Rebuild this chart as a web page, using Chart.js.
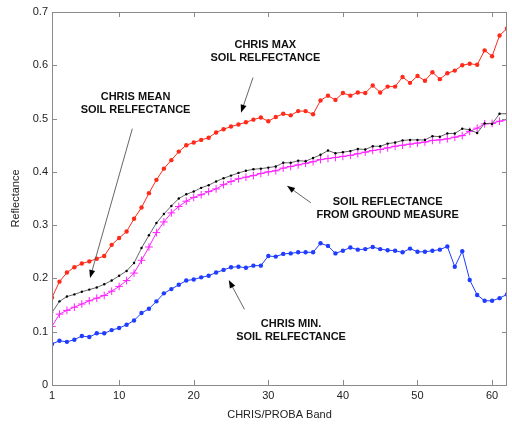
<!DOCTYPE html>
<html>
<head>
<meta charset="utf-8">
<script src="https://cdn.jsdelivr.net/npm/chart.js@4.4.1/dist/chart.umd.min.js"></script>
<style>
  html, body { margin: 0; padding: 0; background: #fff; }
  canvas { display: block; }
</style>
</head>
<body>
<canvas id="soil-chart" width="512" height="425"></canvas>
<script>
// CHRIS/PROBA band numbers
var bands = [1, 2, 3, 4, 5, 6, 7, 8, 9, 10, 11, 12, 13, 14, 15, 16, 17, 18, 19, 20,
    21, 22, 23, 24, 25, 26, 27, 28, 29, 30, 31, 32, 33, 34, 35, 36, 37, 38, 39, 40,
    41, 42, 43, 44, 45, 46, 47, 48, 49, 50, 51, 52, 53, 54, 55, 56, 57, 58, 59, 60, 61, 62];

var chrisMax = [0.164, 0.194, 0.211, 0.221, 0.228, 0.232, 0.237, 0.242, 0.263, 0.276,
    0.288, 0.312, 0.333, 0.360, 0.385, 0.406, 0.422, 0.438, 0.450, 0.455,
    0.460, 0.464, 0.474, 0.480, 0.485, 0.489, 0.493, 0.498, 0.502, 0.495,
    0.503, 0.509, 0.506, 0.514, 0.514, 0.508, 0.534, 0.543, 0.535, 0.548,
    0.543, 0.549, 0.548, 0.562, 0.549, 0.560, 0.560, 0.578, 0.567, 0.580,
    0.571, 0.587, 0.574, 0.585, 0.590, 0.600, 0.603, 0.601, 0.628, 0.617, 0.656, 0.669];

var chrisMean = [0.136, 0.157, 0.166, 0.170, 0.175, 0.179, 0.183, 0.189, 0.196, 0.205,
    0.214, 0.229, 0.257, 0.281, 0.304, 0.321, 0.336, 0.350, 0.358, 0.363,
    0.370, 0.375, 0.382, 0.388, 0.393, 0.398, 0.402, 0.405, 0.406, 0.408,
    0.410, 0.417, 0.417, 0.421, 0.420, 0.426, 0.432, 0.440, 0.435, 0.437,
    0.439, 0.443, 0.442, 0.448, 0.448, 0.453, 0.455, 0.459, 0.460, 0.460,
    0.460, 0.467, 0.466, 0.472, 0.472, 0.481, 0.479, 0.473, 0.491, 0.490, 0.509, 0.509];

var groundMeasure = [0.110, 0.133, 0.140, 0.146, 0.152, 0.158, 0.163, 0.168, 0.176, 0.185,
    0.196, 0.210, 0.234, 0.259, 0.286, 0.306, 0.323, 0.335, 0.345, 0.352,
    0.357, 0.363, 0.368, 0.376, 0.382, 0.387, 0.390, 0.393, 0.397, 0.400,
    0.402, 0.407, 0.410, 0.413, 0.416, 0.419, 0.423, 0.425, 0.427, 0.429,
    0.431, 0.434, 0.437, 0.440, 0.442, 0.445, 0.448, 0.450, 0.452, 0.454,
    0.456, 0.459, 0.460, 0.462, 0.465, 0.468, 0.476, 0.482, 0.490, 0.491, 0.495, 0.498];

var chrisMin = [0.077, 0.083, 0.081, 0.085, 0.092, 0.090, 0.097, 0.097, 0.103, 0.107,
    0.113, 0.121, 0.135, 0.143, 0.157, 0.172, 0.180, 0.188, 0.196, 0.198,
    0.202, 0.205, 0.211, 0.216, 0.221, 0.222, 0.220, 0.224, 0.224, 0.242,
    0.241, 0.246, 0.247, 0.249, 0.249, 0.249, 0.266, 0.261, 0.247, 0.252,
    0.258, 0.254, 0.255, 0.259, 0.255, 0.253, 0.252, 0.249, 0.256, 0.250,
    0.250, 0.252, 0.254, 0.260, 0.222, 0.251, 0.197, 0.169, 0.158, 0.158, 0.163, 0.170];

var xTicks = [1, 10, 20, 30, 40, 50, 60];
var yTicks = [0, 0.1, 0.2, 0.3, 0.4, 0.5, 0.6, 0.7];

// text labels with arrows, in data coordinates (band, reflectance)
var notes = [
    { lines: ['CHRIS MAX', 'SOIL RELFECTANCE'], at: [29.6, 0.639], from: [27.95, 0.577], to: [26.34, 0.511] },
    { lines: ['CHRIS MEAN', 'SOIL RELFECTANCE'], at: [12.2, 0.541], from: [11.77, 0.481], to: [6.1, 0.201] },
    { lines: ['SOIL REFLECTANCE', 'FROM GROUND MEASURE'], at: [46.0, 0.344], from: [35.7, 0.342], to: [32.5, 0.374] },
    { lines: ['CHRIS MIN.', 'SOIL RELFECTANCE'], at: [33.05, 0.115], from: [26.8, 0.142], to: [24.7, 0.197] }
];

function pairs(values) {
    return values.map(function(v, i) { return { x: bands[i], y: v }; });
}

var fontFamily = '"Liberation Sans", Arial, sans-serif';

// frame with inward ticks, MATLAB style
var framePlugin = {
    id: 'frame',
    afterDraw: function(chart) {
        var ctx = chart.ctx;
        var area = chart.chartArea;
        var xs = chart.scales.x, ys = chart.scales.y;
        ctx.save();
        ctx.strokeStyle = '#8a8a8a';
        ctx.lineWidth = 1;
        ctx.strokeRect(Math.round(area.left) + 0.5, Math.round(area.top) + 0.5,
            Math.round(area.right - area.left) - 1, Math.round(area.bottom - area.top));
        ctx.beginPath();
        xTicks.forEach(function(v) {
            var px = Math.round(xs.getPixelForValue(v)) + 0.5;
            ctx.moveTo(px, area.bottom); ctx.lineTo(px, area.bottom - 5);
            ctx.moveTo(px, area.top); ctx.lineTo(px, area.top + 5);
        });
        yTicks.forEach(function(v) {
            var py = Math.round(ys.getPixelForValue(v)) + 0.5;
            ctx.moveTo(area.left, py); ctx.lineTo(area.left + 5, py);
            ctx.moveTo(area.right, py); ctx.lineTo(area.right - 5, py);
        });
        ctx.stroke();

        // annotations
        ctx.font = 'bold 11px ' + fontFamily;
        ctx.fillStyle = '#111';
        ctx.textAlign = 'center';
        ctx.textBaseline = 'middle';
        notes.forEach(function(n) {
            var tx = xs.getPixelForValue(n.at[0]);
            var ty = ys.getPixelForValue(n.at[1]);
            n.lines.forEach(function(line, i) {
                ctx.fillText(line, tx, ty + i * 13.5);
            });
            var x1 = xs.getPixelForValue(n.from[0]), y1 = ys.getPixelForValue(n.from[1]);
            var x2 = xs.getPixelForValue(n.to[0]), y2 = ys.getPixelForValue(n.to[1]);
            var ang = Math.atan2(y2 - y1, x2 - x1);
            ctx.strokeStyle = '#555';
            ctx.lineWidth = 0.9;
            ctx.beginPath();
            ctx.moveTo(x1, y1);
            ctx.lineTo(x2 - 6 * Math.cos(ang), y2 - 6 * Math.sin(ang));
            ctx.stroke();
            ctx.fillStyle = '#000';
            ctx.beginPath();
            ctx.moveTo(x2, y2);
            ctx.lineTo(x2 - 8 * Math.cos(ang) + 3 * Math.sin(ang), y2 - 8 * Math.sin(ang) - 3 * Math.cos(ang));
            ctx.lineTo(x2 - 8 * Math.cos(ang) - 3 * Math.sin(ang), y2 - 8 * Math.sin(ang) + 3 * Math.cos(ang));
            ctx.closePath();
            ctx.fill();
            ctx.fillStyle = '#111';
        });
        ctx.restore();
    }
};

new Chart(document.getElementById('soil-chart'), {
    type: 'line',
    data: {
        datasets: [
            {
                label: 'CHRIS max',
                data: pairs(chrisMax),
                borderColor: '#ff2a1a',
                backgroundColor: '#ff2a1a',
                borderWidth: 1,
                pointStyle: 'circle',
                pointRadius: 2.2,
                pointBorderWidth: 0
            },
            {
                label: 'CHRIS mean',
                data: pairs(chrisMean),
                borderColor: '#555',
                backgroundColor: '#000',
                borderWidth: 0.9,
                pointStyle: 'circle',
                pointRadius: 1.2,
                pointBorderWidth: 0
            },
            {
                label: 'Ground measure',
                data: pairs(groundMeasure),
                borderColor: '#ff22ff',
                backgroundColor: '#ff22ff',
                borderWidth: 1,
                pointStyle: 'cross',
                pointRadius: 3.8,
                pointBorderWidth: 1
            },
            {
                label: 'CHRIS min',
                data: pairs(chrisMin),
                borderColor: '#1f3cff',
                backgroundColor: '#1f3cff',
                borderWidth: 1,
                pointStyle: 'circle',
                pointRadius: 2.2,
                pointBorderWidth: 0
            }
        ]
    },
    options: {
        responsive: false,
        animation: false,
        events: [],
        layout: { padding: { top: 12, right: 0.5, left: 0, bottom: 0 } },
        plugins: {
            legend: { display: false },
            tooltip: { enabled: false }
        },
        elements: { line: { tension: 0 } },
        scales: {
            x: {
                type: 'linear',
                min: 1,
                max: 62,
                afterBuildTicks: function(scale) {
                    scale.ticks = xTicks.map(function(v) { return { value: v }; });
                },
                afterFit: function(scale) { scale.height = 40; },
                grid: { display: false, drawTicks: false },
                border: { display: false },
                ticks: {
                    color: '#222',
                    padding: 4,
                    maxRotation: 0,
                    autoSkip: false,
                    font: { family: fontFamily, size: 11 }
                },
                title: {
                    display: true,
                    text: 'CHRIS/PROBA Band',
                    color: '#222',
                    padding: { top: 3, bottom: 3 },
                    font: { family: fontFamily, size: 11 }
                }
            },
            y: {
                min: 0,
                max: 0.7,
                afterBuildTicks: function(scale) {
                    scale.ticks = yTicks.map(function(v) { return { value: v }; });
                },
                afterFit: function(scale) { scale.width = 52; },
                grid: { display: false, drawTicks: false },
                border: { display: false },
                ticks: {
                    color: '#222',
                    padding: 4,
                    autoSkip: false,
                    font: { family: fontFamily, size: 11 },
                    callback: function(v) { return v === 0 ? '0' : v.toFixed(1); }
                },
                title: {
                    display: true,
                    text: 'Reflectance',
                    color: '#222',
                    padding: { top: 9, bottom: 0 },
                    font: { family: fontFamily, size: 11 }
                }
            }
        }
    },
    plugins: [framePlugin]
});
</script>
</body>
</html>
